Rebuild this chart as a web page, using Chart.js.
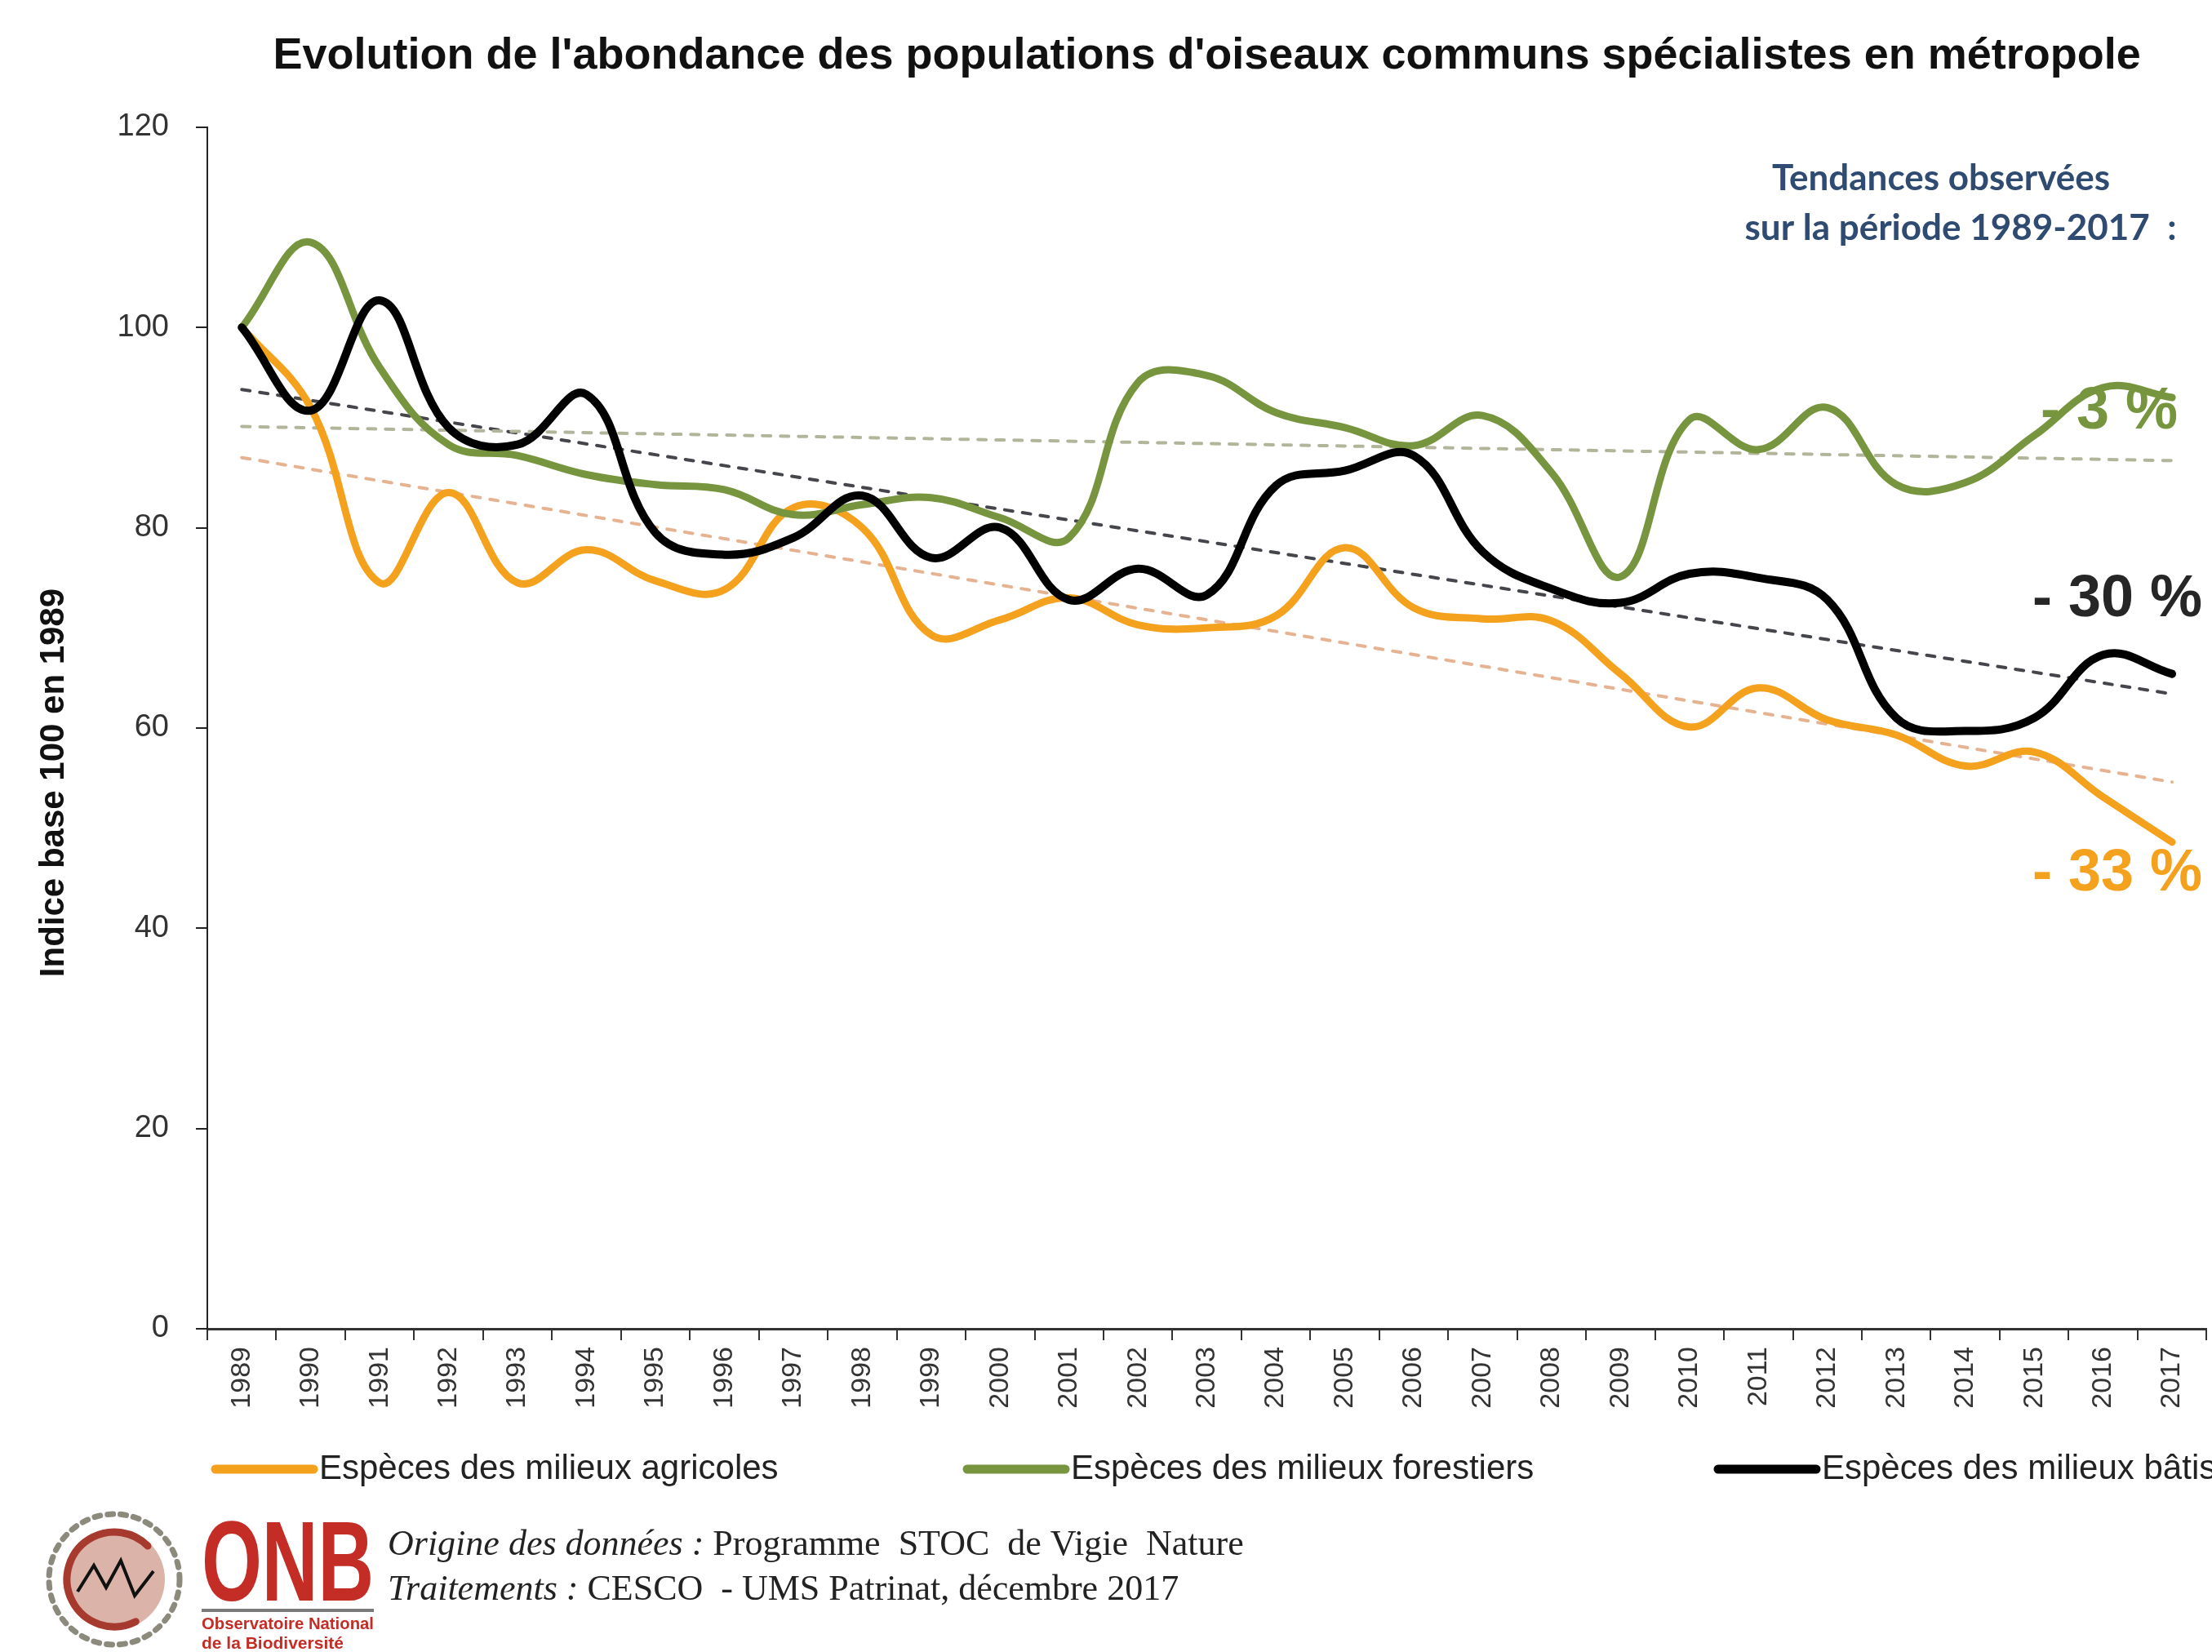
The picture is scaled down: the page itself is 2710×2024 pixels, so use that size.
<!DOCTYPE html>
<html lang="fr">
<head>
<meta charset="utf-8">
<title>Evolution de l'abondance des populations d'oiseaux communs spécialistes</title>
<script src="https://cdn.jsdelivr.net/npm/chart.js@4.4.1/dist/chart.umd.min.js"></script>
<style>
  html, body { margin: 0; padding: 0; background: #fff; }
  #wrap { width: 2710px; height: 2024px; position: relative; }
</style>
</head>
<body>
<div id="wrap"><canvas id="birds"></canvas></div>
<script>
// values (index base 100 in 1989)
const years = ['1989', '1990', '1991', '1992', '1993', '1994', '1995', '1996', '1997', '1998',
  '1999', '2000', '2001', '2002', '2003', '2004', '2005', '2006', '2007', '2008',
  '2009', '2010', '2011', '2012', '2013', '2014', '2015', '2016', '2017'];

const agricoles = [100, 92, 74.5, 83.5, 74.5, 77.8, 74.7, 73.8, 82, 80,
  69.3, 70.8, 73, 70.3, 70, 71.2, 78, 72, 70.9, 70.7,
  65.4, 60.1, 64, 60.8, 59.3, 56.2, 57.6, 53.1, 48.6];

const forestiers = [100, 108.5, 96, 88.3, 87.2, 85.3, 84.3, 83.8, 81.3, 82.3,
  83, 81, 79, 94.5, 95.2, 91.5, 90, 88.2, 91.2, 85.5,
  75.1, 90.8, 87.8, 92, 84.3, 84.5, 89.2, 94, 93];

const batis = [100, 91.7, 102.7, 90, 88.3, 93.3, 79.5, 77.3, 79, 83.2,
  77, 80, 72.8, 75.9, 73.3, 84.2, 85.7, 87.2, 77.6, 73.9,
  72.5, 75.4, 75, 72.8, 61, 59.7, 61, 67.3, 65.4];

// linear trends 1989-2017 (end points)
const trendYears = ['1989', '2017'];
const trendAgricoles = [87, 54.6];
const trendForestiers = [90.1, 86.7];
const trendBatis = [93.8, 63.4];

const seriesNames = ['Espèces des milieux agricoles', 'Espèces des milieux forestiers', 'Espèces des milieux bâtis'];
const trendLabels = ['- 33 %', '- 3 %', '- 30 %'];
const yTicks = [0, 20, 40, 60, 80, 100, 120];

const ORANGE = '#f4a11e';
const GREEN = '#77953e';
const BLACK = '#000000';

function trendPoints(vals) {
  return trendYears.map((y, i) => ({x: y, y: vals[i]}));
}

// texts that are not part of the axes: trend figures, legend, sources, logo
const extras = {
  id: 'extras',
  beforeDatasetsDraw(chart) {
    const ctx = chart.ctx;
    ctx.save();
    ctx.textBaseline = 'middle';
    ctx.textAlign = 'right';
    ctx.font = 'bold 72px "Liberation Sans", Arial, sans-serif';
    ctx.fillStyle = GREEN;
    ctx.fillText(trendLabels[1], 2668, 505);
    ctx.fillStyle = '#262626';
    ctx.fillText(trendLabels[2], 2698, 735);
    ctx.fillStyle = ORANGE;
    ctx.fillText(trendLabels[0], 2698, 1071);

    ctx.textAlign = 'center';
    ctx.fillStyle = '#2f4b72';
    ctx.font = 'bold 44px Lato, "Open Sans", sans-serif';
    ctx.fillText('Tendances observées', 2378, 219);
    ctx.fillText('sur la période 1989-2017  :', 2402, 280);

    // y axis title
    ctx.translate(66, 959);
    ctx.rotate(-Math.PI / 2);
    ctx.fillStyle = '#111';
    ctx.font = 'bold 42px "Liberation Sans", Arial, sans-serif';
    ctx.fillText('Indice base 100 en 1989', 0, 0);
    ctx.restore();
  },
  afterDraw(chart) {
    const ctx = chart.ctx;
    ctx.save();

    // legend
    const legendX = [259, 1180, 2100];
    const colors = [ORANGE, GREEN, BLACK];
    ctx.textBaseline = 'middle';
    ctx.textAlign = 'left';
    ctx.font = '42px "Liberation Sans", Arial, sans-serif';
    seriesNames.forEach((name, i) => {
      ctx.strokeStyle = colors[i];
      ctx.lineWidth = 11;
      ctx.lineCap = 'round';
      ctx.beginPath();
      ctx.moveTo(legendX[i] + 5, 1800);
      ctx.lineTo(legendX[i] + 125, 1800);
      ctx.stroke();
      ctx.fillStyle = '#222';
      ctx.fillText(name, legendX[i] + 132, 1800);
    });

    // sources
    ctx.fillStyle = '#222';
    ctx.font = 'italic 44px "Liberation Serif", "DejaVu Serif", serif';
    ctx.fillText('Origine des données :', 475, 1893);
    let w = ctx.measureText('Origine des données : ').width;
    ctx.font = '44px "Liberation Serif", "DejaVu Serif", serif';
    ctx.fillText('Programme  STOC  de Vigie  Nature', 475 + w, 1893);
    ctx.font = 'italic 44px "Liberation Serif", "DejaVu Serif", serif';
    ctx.fillText('Traitements :', 475, 1948);
    w = ctx.measureText('Traitements : ').width;
    ctx.font = '44px "Liberation Serif", "DejaVu Serif", serif';
    ctx.fillText('CESCO  - UMS Patrinat, décembre 2017', 475 + w, 1948);

    // ONB logo
    ctx.setLineDash([7, 9]);
    ctx.strokeStyle = '#8c8a7c';
    ctx.lineWidth = 7;
    ctx.beginPath();
    ctx.arc(140, 1935, 80, 0, Math.PI * 2);
    ctx.stroke();
    ctx.setLineDash([]);
    ctx.fillStyle = '#dcb3a8';
    ctx.beginPath();
    ctx.arc(140, 1935, 62, 0, Math.PI * 2);
    ctx.fill();
    ctx.strokeStyle = '#a63a2e';
    ctx.lineWidth = 9;
    ctx.beginPath();
    ctx.arc(140, 1935, 58, 0.35 * Math.PI, 1.75 * Math.PI);
    ctx.stroke();
    ctx.strokeStyle = '#111';
    ctx.lineWidth = 4;
    ctx.lineCap = 'butt';
    ctx.beginPath();
    ctx.moveTo(95, 1950);
    ctx.lineTo(115, 1918);
    ctx.lineTo(130, 1945);
    ctx.lineTo(148, 1912);
    ctx.lineTo(165, 1955);
    ctx.lineTo(188, 1925);
    ctx.stroke();

    ctx.fillStyle = '#c32d26';
    ctx.textBaseline = 'alphabetic';
    ctx.font = 'bold 140px "Liberation Sans", Arial, sans-serif';
    ctx.fillText('ONB', 247, 1961, 211);
    ctx.fillStyle = '#7a7a7a';
    ctx.fillRect(247, 1971, 211, 4);
    ctx.fillStyle = '#c32d26';
    ctx.font = 'bold 21px "Liberation Sans", Arial, sans-serif';
    ctx.fillText('Observatoire National', 247, 1996, 211);
    ctx.fillText('de la Biodiversité', 247, 2020, 211);
    ctx.restore();
  }
};

new Chart(document.getElementById('birds'), {
  type: 'line',
  data: {
    labels: years,
    datasets: [
      {
        label: seriesNames[2],
        data: batis,
        borderColor: BLACK,
        borderWidth: 10,
        order: 0
      },
      {
        label: seriesNames[1],
        data: forestiers,
        borderColor: GREEN,
        borderWidth: 9,
        order: 1
      },
      {
        label: seriesNames[0],
        data: agricoles,
        borderColor: ORANGE,
        borderWidth: 9,
        order: 2
      },
      {
        label: 'Tendance forestiers',
        data: trendPoints(trendForestiers),
        borderColor: '#b3b59a',
        borderWidth: 4,
        borderDash: [10, 12],
        order: 3
      },
      {
        label: 'Tendance bâtis',
        data: trendPoints(trendBatis),
        borderColor: '#44464c',
        borderWidth: 4,
        borderDash: [10, 12],
        order: 3
      },
      {
        label: 'Tendance agricoles',
        data: trendPoints(trendAgricoles),
        borderColor: '#e6b392',
        borderWidth: 4,
        borderDash: [10, 12],
        order: 3
      }
    ]
  },
  options: {
    responsive: true,
    maintainAspectRatio: false,
    animation: false,
    events: [],
    elements: {
      point: {radius: 0},
      line: {tension: 0.4, borderCapStyle: 'round', borderJoinStyle: 'round'}
    },
    layout: {
      padding: {left: 0, right: 0, top: 0, bottom: 266}
    },
    plugins: {
      legend: {display: false},
      tooltip: {enabled: false},
      title: {
        display: true,
        fullSize: false,
        text: "Evolution de l'abondance des populations d'oiseaux communs spécialistes en métropole",
        color: '#111',
        font: {family: '"Liberation Sans", Arial, sans-serif', size: 54, weight: 'bold'},
        padding: {top: 37, bottom: 54}
      }
    },
    scales: {
      x: {
        offset: true,
        grid: {
          offset: true,
          drawOnChartArea: false,
          drawTicks: true,
          tickLength: 14,
          color: '#333',
          lineWidth: 2
        },
        border: {display: true, color: '#333', width: 3},
        ticks: {
          autoSkip: false,
          minRotation: 90,
          maxRotation: 90,
          padding: 8,
          color: '#333',
          font: {family: '"Liberation Sans", Arial, sans-serif', size: 34}
        },
        afterFit: (scale) => { scale.height = 130; }
      },
      y: {
        min: yTicks[0],
        max: yTicks[yTicks.length - 1],
        grid: {
          drawOnChartArea: false,
          drawTicks: true,
          tickLength: 14,
          color: '#222',
          lineWidth: 2
        },
        border: {display: true, color: '#222', width: 2},
        ticks: {
          stepSize: yTicks[1] - yTicks[0],
          padding: 33,
          color: '#333',
          font: {family: '"Liberation Sans", Arial, sans-serif', size: 38}
        },
        afterFit: (scale) => { scale.width = 254; }
      }
    }
  },
  plugins: [extras]
});
</script>
</body>
</html>
